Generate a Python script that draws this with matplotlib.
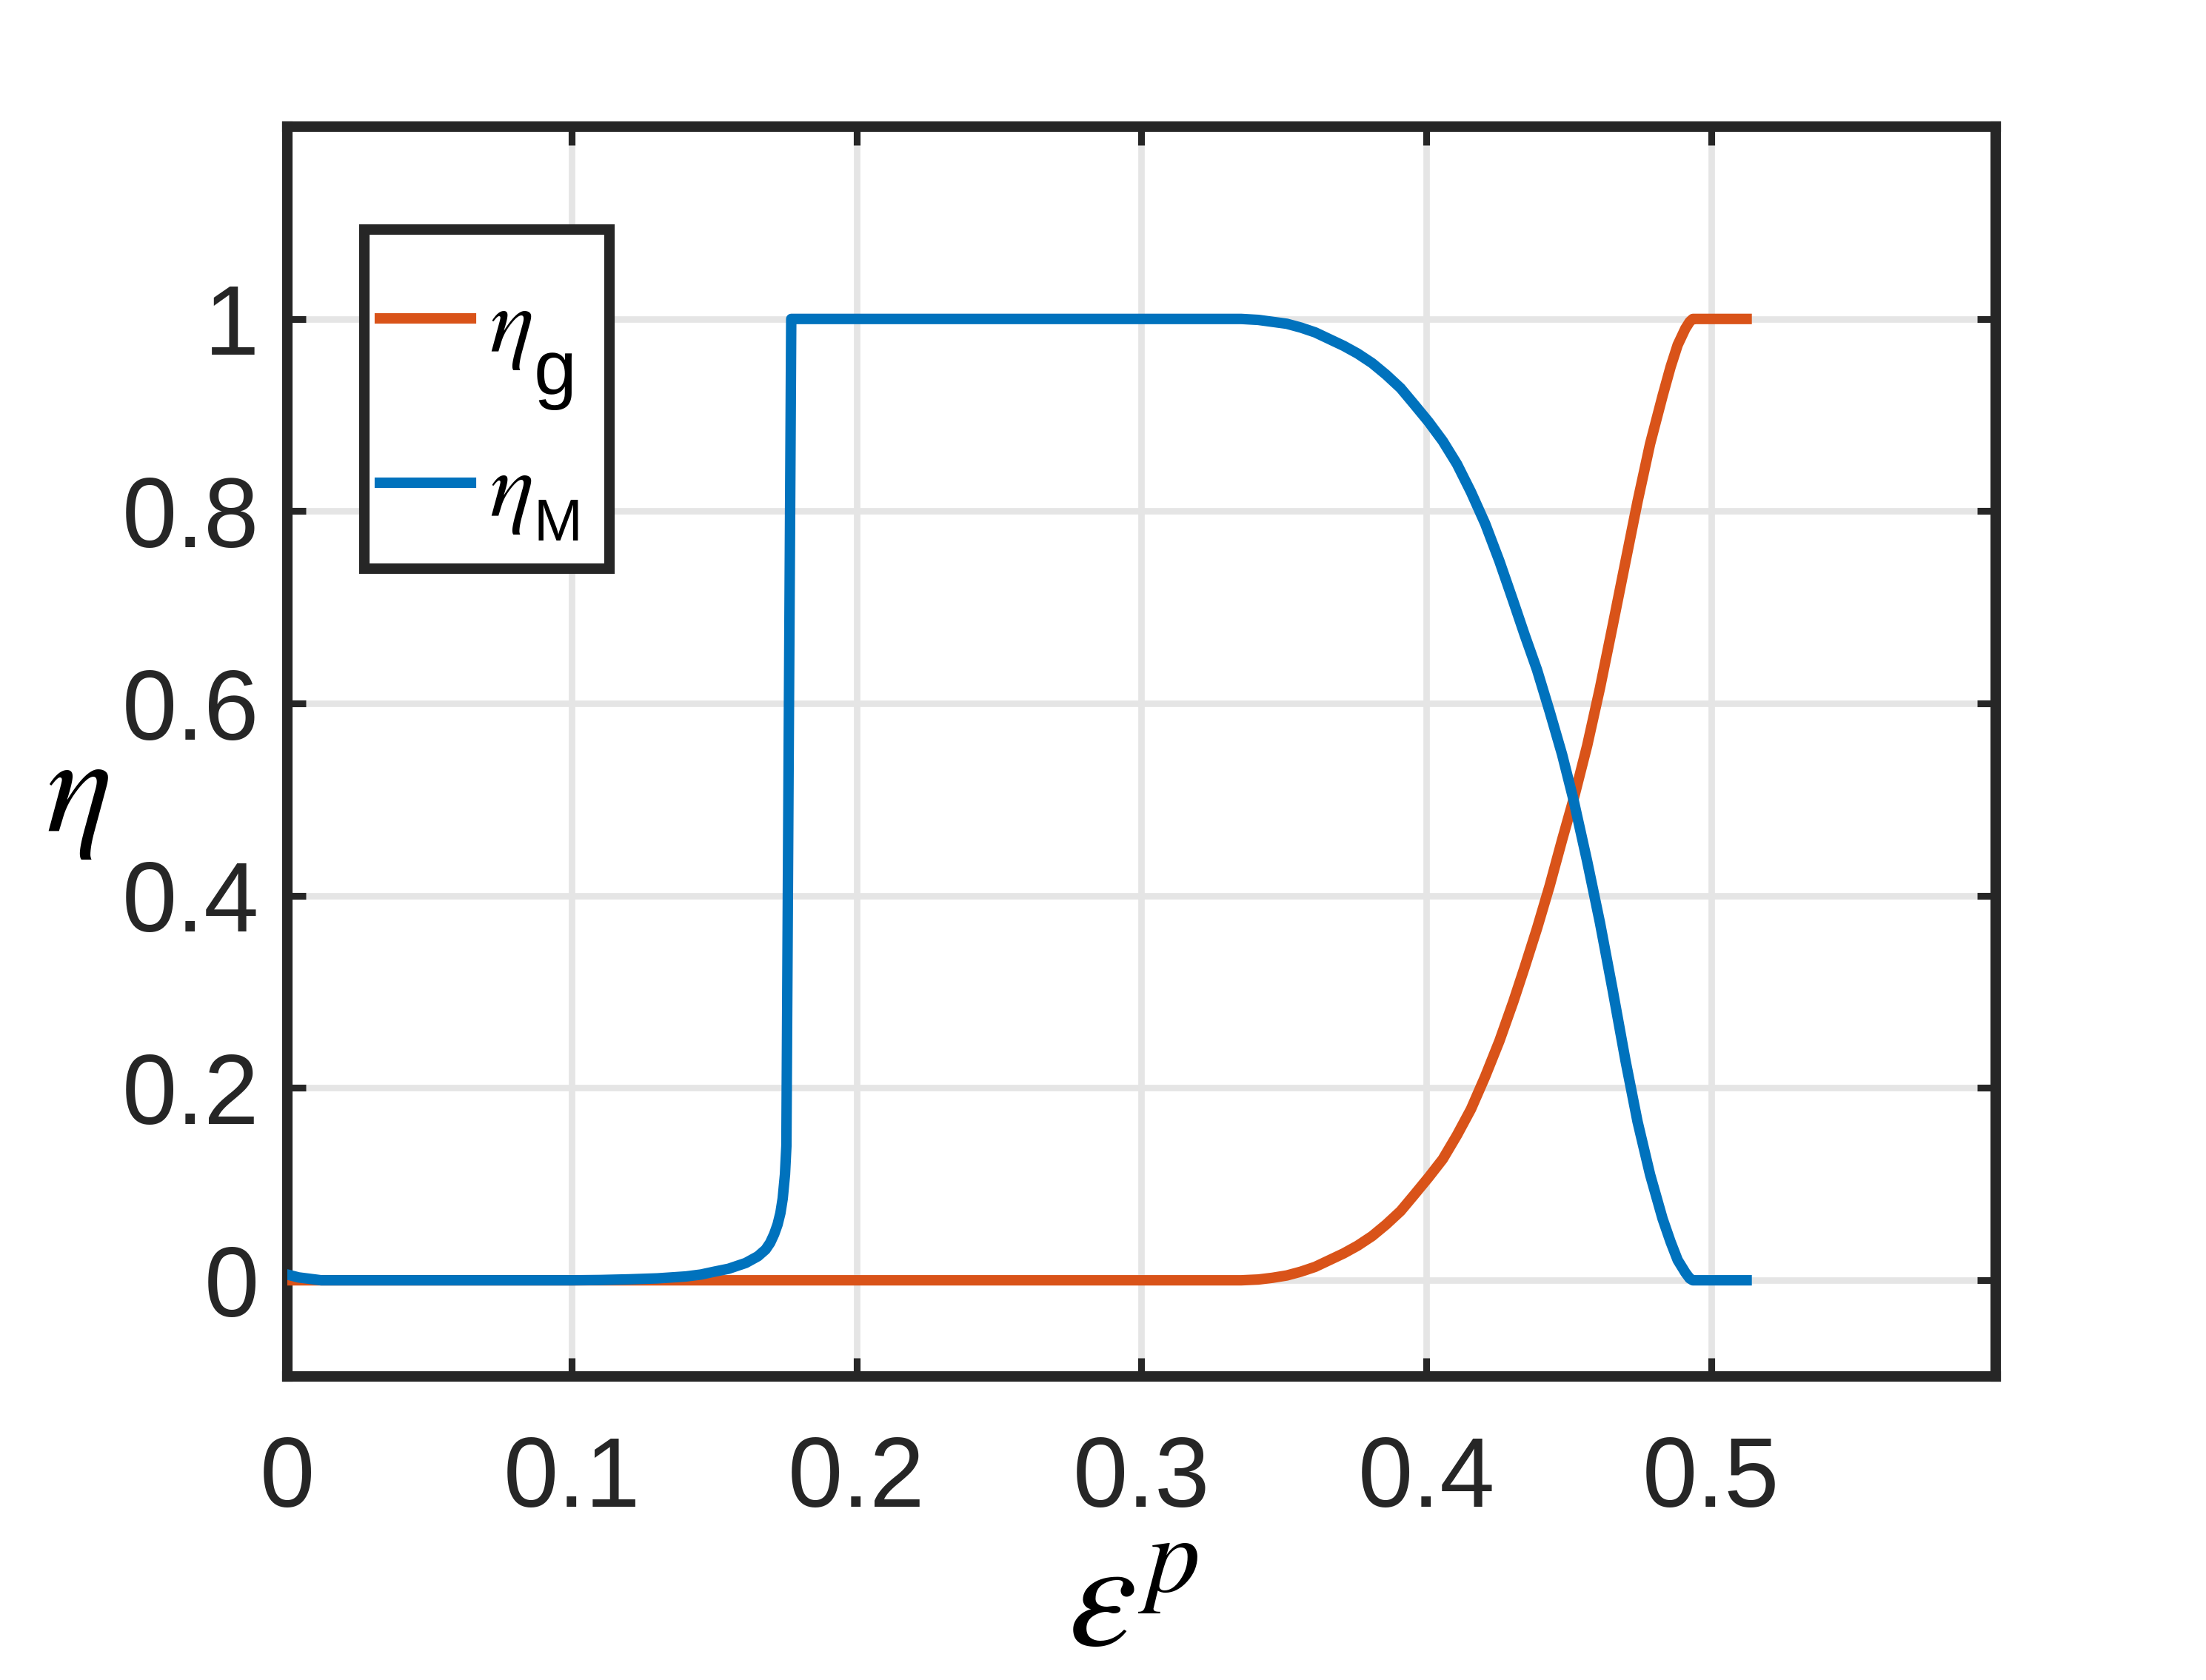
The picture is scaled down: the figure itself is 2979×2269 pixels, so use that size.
import matplotlib
matplotlib.use("Agg")
import matplotlib.pyplot as plt
from matplotlib.patches import Rectangle

plt.rcParams['font.family'] = ['Liberation Sans', 'DejaVu Sans']
plt.rcParams['mathtext.fontset'] = 'custom'
plt.rcParams['mathtext.it'] = 'STIXGeneral:italic'
plt.rcParams['mathtext.rm'] = 'Liberation Sans'
plt.rcParams['mathtext.sf'] = 'Liberation Sans'
plt.rcParams['mathtext.bf'] = 'STIXGeneral:bold'

# eta_g (orange)
eps_g = [0.0, 0.335, 0.341, 0.346, 0.351, 0.356, 0.361, 0.366, 0.371, 0.3759,
         0.381, 0.3859, 0.391, 0.3958, 0.4008, 0.4058, 0.4108, 0.4157, 0.4207,
         0.4257, 0.4306, 0.4346, 0.4389, 0.4433, 0.4477, 0.4517, 0.4565, 0.461,
         0.4654, 0.470, 0.4742, 0.4786, 0.483, 0.4858, 0.4883, 0.491, 0.4925,
         0.4936, 0.5125]
eta_g = [0.0, 0.0, 0.0008, 0.0026, 0.005, 0.009, 0.014, 0.021, 0.028, 0.036,
         0.046, 0.058, 0.072, 0.089, 0.107, 0.126, 0.151, 0.178, 0.212,
         0.249, 0.29, 0.326, 0.366, 0.41, 0.458, 0.500, 0.556, 0.616,
         0.68, 0.748, 0.81, 0.87, 0.92, 0.95, 0.973, 0.99, 0.997,
         1.0, 1.0]

# eta_M (blue)
eps_m = [0.0, 0.004, 0.012, 0.06, 0.10, 0.11, 0.12, 0.13, 0.14, 0.1453, 0.15,
         0.155, 0.161, 0.1653, 0.168, 0.1696, 0.171, 0.1722, 0.1732, 0.174,
         0.1748, 0.1753, 0.1762, 0.177, 0.22, 0.28, 0.335, 0.341, 0.346, 0.351,
         0.356, 0.361, 0.366, 0.371, 0.3759, 0.381, 0.3859, 0.391, 0.3958,
         0.4008, 0.4058, 0.4108, 0.4157, 0.4207, 0.4257, 0.4306, 0.4346, 0.4389,
         0.4433, 0.4477, 0.4517, 0.4565, 0.461, 0.4654, 0.470, 0.4742, 0.4786,
         0.483, 0.4858, 0.4883, 0.491, 0.4925, 0.4936, 0.5125]
eta_m = [0.006, 0.003, 0.0, 0.0, 0.0, 0.0003, 0.001, 0.002, 0.004, 0.006, 0.009,
         0.012, 0.018, 0.025, 0.032, 0.039, 0.048, 0.058, 0.07, 0.085,
         0.11, 0.14, 0.6, 1.0, 1.0, 1.0, 1.0, 0.999, 0.997, 0.995,
         0.991, 0.986, 0.979, 0.972, 0.964, 0.954, 0.942, 0.928, 0.911,
         0.893, 0.873, 0.849, 0.82, 0.787, 0.748, 0.706, 0.671, 0.635,
         0.592, 0.547, 0.5, 0.436, 0.372, 0.303, 0.228, 0.165, 0.11,
         0.064, 0.04, 0.021, 0.008, 0.002, 0.0, 0.0]

x_ticks = [0, 0.1, 0.2, 0.3, 0.4, 0.5]
x_labels = ['0', '0.1', '0.2', '0.3', '0.4', '0.5']
y_ticks = [0, 0.2, 0.4, 0.6, 0.8, 1.0]
y_labels = ['0', '0.2', '0.4', '0.6', '0.8', '1']
subs = ['g', 'M']

orange = '#D95319'
blue = '#0072BD'
dark = '#262626'

fig = plt.figure(figsize=(2979 / 300, 2269 / 300), dpi=300)
ax = fig.add_axes([0.1302, 0.1807, 0.7745, 0.7439])

l1, = ax.plot(eps_g, eta_g, color=orange, linewidth=3.4, zorder=3)
l2, = ax.plot(eps_m, eta_m, color=blue, linewidth=3.4, zorder=4)

ax.set_xlim(0, 0.6)
ax.set_ylim(-0.1, 1.2)
ax.set_xticks(x_ticks)
ax.set_xticklabels(x_labels)
ax.set_yticks(y_ticks)
ax.set_yticklabels(y_labels)

ax.grid(True, color='#e5e5e5', linewidth=2.1)
ax.set_axisbelow(True)

for s in ax.spines.values():
    s.set_linewidth(3.4)
    s.set_color(dark)

ax.tick_params(direction='in', length=6, width=2.2, colors=dark,
               top=True, right=True, labelsize=32)
ax.tick_params(axis='x', pad=19)
ax.tick_params(axis='y', pad=9)

ax.set_xlabel(r'$\varepsilon^{p}$', fontsize=50, color='black')
ax.xaxis.set_label_coords(0.495, -0.184)
ax.xaxis.label.set_va('center')
ax.set_ylabel(r'$\eta$', fontsize=45, rotation=0, color='black')
ax.yaxis.set_label_coords(-0.123, 0.464)
ax.yaxis.label.set_va('center')
ax.yaxis.label.set_ha('center')

# legend: MATLAB-like box drawn by hand, entries from ax.legend
box = Rectangle((0.0451, 0.6463), 0.1435, 0.2714, transform=ax.transAxes,
                facecolor='white', edgecolor=dark, linewidth=3.4, zorder=4.8,
                clip_on=False)
ax.add_patch(box)
leg = ax.legend([l1, l2], [r'$\eta$', r'$\eta$'], loc='upper left',
                bbox_to_anchor=(0.0544, 0.874), borderaxespad=0, borderpad=0,
                frameon=False, fontsize=30, handlelength=0.98,
                handletextpad=0.2, labelspacing=0.83)
leg.set_zorder(5)
sub_sizes = [25, 19]
sub_drop = [-7.2, -1.6]
for t, s, fs, dy in zip(leg.get_texts(), subs, sub_sizes, sub_drop):
    ax.annotate(s, xy=(1, 0), xycoords=t, xytext=(0.5, dy),
                textcoords='offset points', fontsize=fs, ha='left',
                va='baseline', color='black', zorder=6)

fig.savefig('out.png', dpi=300)
